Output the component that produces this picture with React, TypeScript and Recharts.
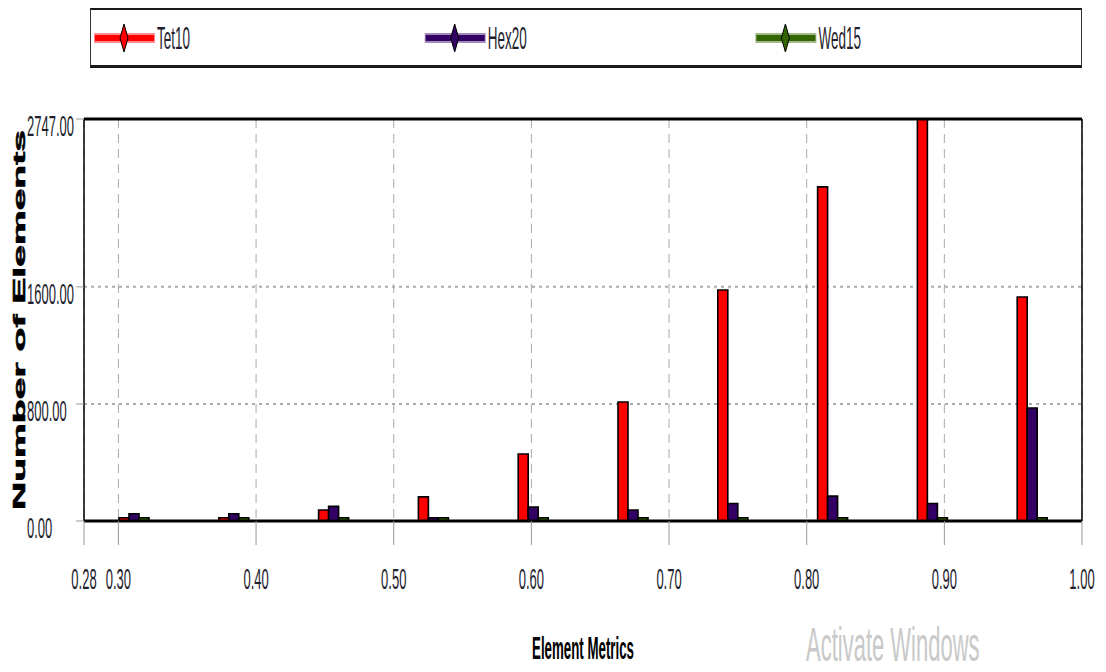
import React from 'react';
import { BarChart, Bar, XAxis, YAxis, CartesianGrid, Legend, ReferenceLine } from 'recharts';

// Histogram bins (bin centres on the Element Metrics axis)
const binCenters = [0.31125, 0.38375, 0.45625, 0.52875, 0.60125, 0.67375, 0.74625, 0.81875, 0.89125, 0.96375];
const tet10 = [22, 22, 75, 165, 458, 813, 1579, 2283, 2747, 1531];
const hex20 = [50, 50, 100, 22, 95, 75, 120, 170, 120, 772];
const wed15 = [22, 22, 22, 22, 22, 22, 22, 22, 22, 22];

const seriesNames = ['Tet10', 'Hex20', 'Wed15'];
const seriesColors = ['#ff0000', '#330066', '#336600'];

const xTicks = [0.275, 0.3, 0.4, 0.5, 0.6, 0.7, 0.8, 0.9, 1.0];
const xTickLabels = ['0.28', '0.30', '0.40', '0.50', '0.60', '0.70', '0.80', '0.90', '1.00'];
const yTicks = [0, 800, 1600, 2747];
const yTickLabels = ['0.00', '800.00', '1600.00', '2747.00'];

const data = binCenters.map((x, i) => ({
  x,
  [seriesNames[0]]: tet10[i],
  [seriesNames[1]]: hex20[i],
  [seriesNames[2]]: wed15[i],
}));

const FONT = '"Liberation Sans", Arial, sans-serif';
const STRETCH = 2.3;

const XTick = (props: any) => {
  const { x, y, payload } = props;
  const idx = xTicks.indexOf(payload.value);
  const label = idx >= 0 ? xTickLabels[idx] : Number(payload.value).toFixed(2);
  return (
    <g transform={`translate(${x},${y + 32})`}>
      <text transform={`scale(1,${STRETCH})`} textAnchor="middle" dominantBaseline="central" fontSize={13} fontFamily={FONT} fill="#1e1e2e">
        {label}
      </text>
    </g>
  );
};

const YTick = (props: any) => {
  const { y, payload } = props;
  const idx = yTicks.indexOf(payload.value);
  const label = idx >= 0 ? yTickLabels[idx] : Number(payload.value).toFixed(2);
  return (
    <g transform={`translate(19,${y + 7})`}>
      <text transform={`scale(1,${STRETCH})`} textAnchor="start" dominantBaseline="central" fontSize={13} fontFamily={FONT} fill="#1e1e2e">
        {label}
      </text>
    </g>
  );
};

const XTitle = (props: any) => {
  const vb = props.viewBox || { x: 76, y: 513, width: 998 };
  return (
    <g transform={`translate(${vb.x + vb.width / 2},${vb.y + 128})`}>
      <text transform={`scale(1,${STRETCH})`} textAnchor="middle" dominantBaseline="central" fontSize={13.3} fontWeight="bold" fontFamily={FONT} fill="#000">
        Element Metrics
      </text>
    </g>
  );
};

const YTitle = (props: any) => {
  const vb = props.viewBox || { x: 0, y: 111, height: 402 };
  return (
    <g transform={`translate(17,${vb.y + vb.height / 2}) rotate(-90) scale(${STRETCH},1)`}>
      <text textAnchor="middle" fontSize={17} fontWeight="bold" fontFamily={FONT} fill="#000" stroke="#000" strokeWidth={0.6}>
        Number of Elements
      </text>
    </g>
  );
};

const LegendBox = () => (
  <div
    style={{
      width: 992,
      height: 61,
      boxSizing: 'border-box',
      borderTop: '3px solid #1a1a1a',
      borderBottom: '3px solid #1a1a1a',
      borderLeft: '1px solid #333',
      borderRight: '1px solid #333',
      background: '#fff',
    }}
  >
    <svg width={990} height={55} style={{ display: 'block' }}>
      {seriesNames.map((name, i) => {
        const ox = 3 + i * 330.7;
        const c = seriesColors[i];
        return (
          <g key={name} transform={`translate(${ox},28)`}>
            <line x1={0} y1={0} x2={61} y2={0} stroke={c} strokeOpacity={0.45} strokeWidth={10} />
            <line x1={1} y1={0} x2={60} y2={0} stroke={c} strokeWidth={6} />
            <polygon points="30,-14 34,0 30,14 26,0" fill={c} stroke="#000" strokeWidth={1} />
            <g transform="translate(63,0)">
              <text transform={`scale(1,${STRETCH})`} dominantBaseline="central" fontSize={13.5} fontFamily={FONT} fill="#1e1e2e">
                {name}
              </text>
            </g>
          </g>
        );
      })}
    </svg>
  </div>
);

export default function App() {
  return (
    <div style={{ position: 'relative', width: 1098, height: 664 }}>
      <BarChart
        width={1098}
        height={664}
        data={data}
        margin={{ top: 111, right: 24, left: 0, bottom: 11 }}
        barGap={0}
        barSize={10}
      >
        <CartesianGrid horizontal={false} stroke="#aaa" strokeDasharray="9 6" />
        <CartesianGrid vertical={false} stroke="#aaa" strokeWidth={2} strokeDasharray="3 4" />
        <XAxis
          dataKey="x"
          type="number"
          domain={[0.275, 1]}
          ticks={xTicks}
          interval={0}
          allowDataOverflow
          height={140}
          tickSize={24}
          tickLine={{ stroke: '#999' }}
          axisLine={{ stroke: '#000', strokeWidth: 3 }}
          tick={<XTick />}
          label={<XTitle />}
        />
        <YAxis
          type="number"
          domain={[0, 2747]}
          ticks={yTicks}
          interval={0}
          allowDataOverflow
          width={76}
          tickSize={8}
          tickLine={{ stroke: '#999' }}
          axisLine={{ stroke: '#000', strokeWidth: 1.5 }}
          tick={<YTick />}
          label={<YTitle />}
        />
        <Legend
          layout="horizontal"
          verticalAlign="middle"
          align="center"
          content={<LegendBox />}
          wrapperStyle={{ position: 'absolute', left: 82, top: -1, width: 992, height: 61 }}
        />
        {seriesNames.map((name, i) => (
          <Bar key={name} dataKey={name} fill={seriesColors[i]} stroke="#000" strokeWidth={1.6} isAnimationActive={false} />
        ))}
        <ReferenceLine y={2747} stroke="#000" strokeWidth={3} ifOverflow="extendDomain" />
        <ReferenceLine x={1} stroke="#000" strokeWidth={1.5} ifOverflow="extendDomain" />
      </BarChart>
      <svg width={300} height={58} style={{ position: 'absolute', left: 790, top: 606, pointerEvents: 'none' }}>
        <g transform="translate(8,30)">
          <text transform="scale(1,2.2)" dominantBaseline="central" fontSize={22} fontFamily={FONT} fill="#c9c9c9">
            Activate Windows
          </text>
        </g>
      </svg>
    </div>
  );
}
